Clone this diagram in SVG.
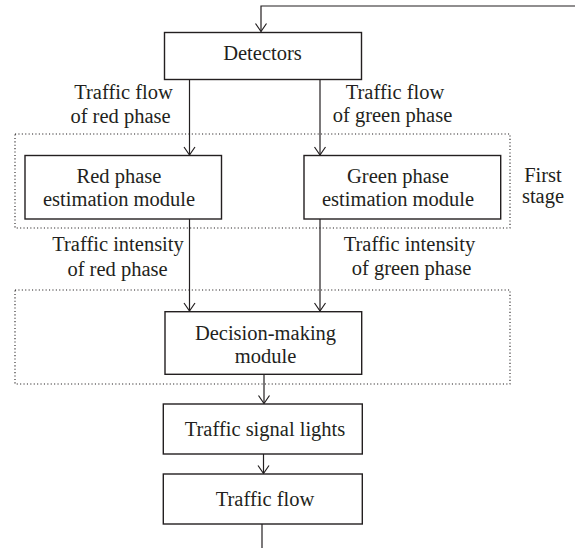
<svg xmlns="http://www.w3.org/2000/svg" width="575" height="548" viewBox="0 0 575 548">
<defs>
<style>
.box{fill:#fff;stroke:#231f20;stroke-width:1.4}
.dot{fill:none;stroke:#231f20;stroke-width:1.1;stroke-dasharray:1.1 2.3}
.edge{fill:none;stroke:#231f20;stroke-width:1.2}
.t{font-size:20.5px;fill:#231f20;text-anchor:middle}
</style>
<marker id="arr" viewBox="-10 -7 12 14" markerWidth="12" markerHeight="14" refX="0" refY="0" orient="auto" markerUnits="userSpaceOnUse">
<path d="M-8,-5.5 L0,0 L-8,5.5" fill="none" stroke="#231f20" stroke-width="1.2"/>
</marker>
</defs>
<rect width="575" height="548" fill="#fff"/>
<g font-family="'Liberation Serif', 'DejaVu Serif', 'Times New Roman', serif">
<g id="stages">
<rect class="dot" x="15" y="134" width="495" height="94"/>
<rect class="dot" x="15" y="290" width="495" height="94"/>
<text class="t" x="543" y="182">First</text>
<text class="t" x="543" y="203">stage</text>
</g>
<g id="connectors">
<path class="edge" d="M575,6 H261 V31.5" marker-end="url(#arr)"/>
<path class="edge" d="M189.5,79.5 V155" marker-end="url(#arr)"/>
<path class="edge" d="M320,79.5 V155" marker-end="url(#arr)"/>
<path class="edge" d="M189.5,219 V311" marker-end="url(#arr)"/>
<path class="edge" d="M320,219 V311" marker-end="url(#arr)"/>
<path class="edge" d="M264,374.3 V403.5" marker-end="url(#arr)"/>
<path class="edge" d="M263.5,454 V473.5" marker-end="url(#arr)"/>
<path class="edge" d="M262,524 V548"/>
<text class="t" x="123.5" y="98.5">Traffic flow</text>
<text class="t" x="120.5" y="122.5">of red phase</text>
<text class="t" x="395" y="98.5">Traffic flow</text>
<text class="t" x="392.5" y="122">of green phase</text>
<text class="t" x="118" y="251">Traffic intensity</text>
<text class="t" x="117.5" y="276">of red phase</text>
<text class="t" x="409.5" y="250.5">Traffic intensity</text>
<text class="t" x="411.5" y="275">of green phase</text>
</g>
<g id="detectors">
<rect class="box" x="164.5" y="32.5" width="197" height="47"/>
<text class="t" x="262.5" y="60">Detectors</text>
</g>
<g id="red-module">
<rect class="box" x="25" y="155.5" width="196.5" height="63.5"/>
<text class="t" x="119" y="182.5">Red phase</text>
<text class="t" x="119" y="206">estimation module</text>
</g>
<g id="green-module">
<rect class="box" x="304" y="155.5" width="196.7" height="63.5"/>
<text class="t" x="398" y="182.5">Green phase</text>
<text class="t" x="398" y="206">estimation module</text>
</g>
<g id="decision">
<rect class="box" x="165" y="311.7" width="196.7" height="62.6"/>
<text class="t" x="265.5" y="340">Decision-making</text>
<text class="t" x="265.5" y="362.5">module</text>
</g>
<g id="signal-lights">
<rect class="box" x="163.3" y="404" width="199" height="50"/>
<text class="t" x="265" y="435.5">Traffic signal lights</text>
</g>
<g id="traffic-flow">
<rect class="box" x="163.3" y="474" width="199" height="50"/>
<text class="t" x="265" y="506">Traffic flow</text>
</g>
</g>
</svg>
